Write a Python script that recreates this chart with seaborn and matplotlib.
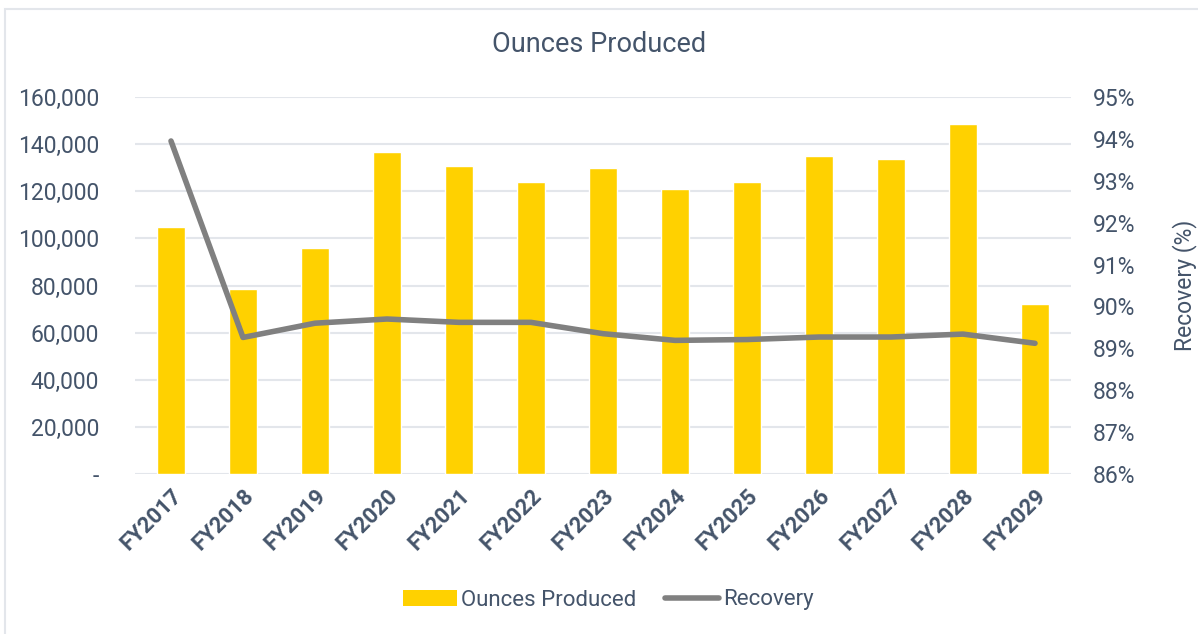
import matplotlib
matplotlib.use("Agg")
import matplotlib.pyplot as plt
import matplotlib.ticker as mticker
from matplotlib.lines import Line2D
from matplotlib.patches import Patch
import seaborn as sns
import pandas as pd

sns.set_theme(style="white")
plt.rcParams["font.family"] = ["Roboto", "DejaVu Sans"]

TXT = "#44546A"
AMARELO = "#FFD100"
CINZA = "#808080"
GRADE = "#E3E6EB"

anos = ["FY2017", "FY2018", "FY2019", "FY2020", "FY2021", "FY2022", "FY2023",
        "FY2024", "FY2025", "FY2026", "FY2027", "FY2028", "FY2029"]
onças = [104700, 78400, 95800, 136700, 130900, 123800, 130000,
         120800, 124000, 134800, 133600, 148400, 72200]
recuperacao = [93.95, 89.26, 89.60, 89.70, 89.62, 89.62, 89.35,
               89.19, 89.21, 89.27, 89.27, 89.34, 89.12]

df = pd.DataFrame({"ano": anos, "oz": onças, "rec": recuperacao})

fig = plt.figure(figsize=(11.98, 6.34), dpi=100)
ax = fig.add_axes([135 / 1198, 160 / 634, (1071 - 135) / 1198, (474 - 97) / 634])

sns.barplot(data=df, x="ano", y="oz", color=AMARELO, width=0.39, saturation=1, ax=ax, zorder=2)
ax.set_ylim(0, 160000)
ax.set_yticks(range(0, 160001, 20000))
ax.yaxis.set_major_formatter(mticker.FuncFormatter(lambda v, p: "-" if v == 0 else f"{v:,.0f}"))
ax.grid(axis="y", color=GRADE, linewidth=1.5, zorder=0)
ax.set_axisbelow(True)
for s in ax.spines.values():
    s.set_visible(False)
ax.set_xlabel("")
ax.set_ylabel("")
ax.tick_params(axis="y", labelsize=16.5, colors=TXT, pad=26, length=0)
ax.tick_params(axis="x", length=0, pad=8)
ax.set_xticks(range(len(anos)))
ax.set_xticklabels(anos, rotation=45, ha="right", rotation_mode="anchor",
                   fontsize=16, fontweight="bold", color=TXT)

ax2 = ax.twinx()
sns.lineplot(x=range(len(anos)), y=df["rec"], color=CINZA, linewidth=4, ax=ax2,
             solid_capstyle="round")
ax2.set_ylim(86, 95)
ax2.set_yticks(range(86, 96))
ax2.yaxis.set_major_formatter(mticker.FuncFormatter(lambda v, p: f"{v:.0f}%"))
ax2.tick_params(axis="y", labelsize=16.5, colors=TXT, pad=16, length=0)
for s in ax2.spines.values():
    s.set_visible(False)
ax2.set_ylabel("Recovery (%)", fontsize=16.5, color=TXT, labelpad=26)
ax2.set_xlim(-0.5, len(anos) - 0.5)

fig.text(0.5, 1 - 45 / 634, "Ounces Produced", ha="center", va="center", fontsize=19.5, color=TXT)

handles = [Patch(facecolor=AMARELO, edgecolor="none"),
           Line2D([0], [0], color=CINZA, linewidth=4)]
fig.legend(handles, ["Ounces Produced", "Recovery"], loc="center",
           bbox_to_anchor=(0.508, 1 - 600 / 634), ncol=2, frameon=False,
           fontsize=16, labelcolor=TXT, handlelength=2.4, handletextpad=0.2,
           columnspacing=1.3)

# moldura clara do gráfico
fig.add_artist(plt.Rectangle((5 / 1198, -0.1), 1.2, 1.1 - 9 / 634, transform=fig.transFigure,
                             fill=False, edgecolor=GRADE, linewidth=1.5))

fig.savefig("out.png", dpi=100)
plt.close(fig)
